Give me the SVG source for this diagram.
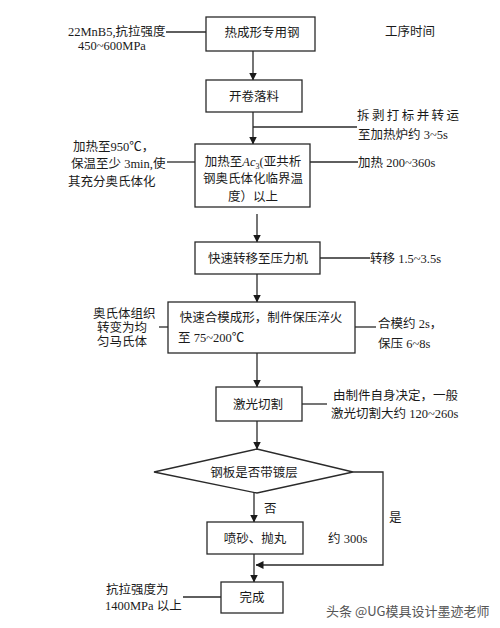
<svg xmlns="http://www.w3.org/2000/svg" width="500" height="628" viewBox="0 0 500 628">
<defs>
<marker id="ah" markerWidth="8" markerHeight="9" refX="7.5" refY="4" orient="auto" markerUnits="userSpaceOnUse">
<path d="M0,0 L8,4 L0,8 Z" fill="#1a1a1a"/>
</marker>
<style>
.box{fill:#fff;stroke:#2a2a2a;stroke-width:1.3}
.ln{fill:none;stroke:#2a2a2a;stroke-width:1.3}
.ar{fill:none;stroke:#2a2a2a;stroke-width:1.3;marker-end:url(#ah)}
text{font-family:"Liberation Serif","Noto Sans CJK SC",serif;font-size:12.5px;fill:#1a1a1a}
.c{text-anchor:middle}
.wm{font-family:"Noto Sans CJK SC","Liberation Sans",sans-serif;font-size:13px;fill:#555}
</style>
</defs>
<rect width="500" height="628" fill="#fff"/>
<g id="connectors">
<line class="ln" x1="166" y1="32" x2="206" y2="32"/>
<line class="ar" x1="253" y1="51" x2="253" y2="80"/>
<line class="ar" x1="253" y1="112" x2="253" y2="144"/>
<line class="ln" x1="253" y1="127" x2="357" y2="127"/>
<line class="ln" x1="167" y1="162" x2="195" y2="162"/>
<line class="ln" x1="310" y1="162" x2="358" y2="162"/>
<line class="ar" x1="257" y1="214" x2="257" y2="242"/>
<line class="ln" x1="320" y1="258" x2="370" y2="258"/>
<line class="ar" x1="257" y1="274" x2="257" y2="302"/>
<line class="ln" x1="159" y1="327" x2="168" y2="327"/>
<line class="ln" x1="355" y1="327" x2="376" y2="327"/>
<line class="ar" x1="257" y1="353" x2="257" y2="387"/>
<line class="ln" x1="302" y1="404" x2="327" y2="404"/>
<line class="ar" x1="257" y1="421" x2="257" y2="449"/>
<line class="ar" x1="254" y1="493" x2="254" y2="522"/>
<line class="ar" x1="254" y1="554" x2="254" y2="582"/>
<polyline class="ar" points="353,472 383,472 383,565 256,565"/>
<line class="ln" x1="183" y1="597" x2="221" y2="597"/>
</g>
<g id="n1"><rect class="box" x="206" y="17" width="109" height="34"/><text class="c" x="262" y="36.5">热成形专用钢</text></g>
<g id="n1-note"><text x="68" y="36">22MnB5,抗拉强度</text><text x="78" y="50">450~600MPa</text></g>
<g id="time-title"><text x="385" y="35.5">工序时间</text></g>
<g id="n2"><rect class="box" x="206" y="80" width="96" height="32"/><text class="c" x="254" y="100.5">开卷落料</text></g>
<g id="n2-time"><text x="357" y="119.5" textLength="102">拆剥打标并转运</text><text x="358" y="138.5">至加热炉约 3~5s</text></g>
<g id="n3"><rect class="box" x="195" y="144" width="115" height="63"/>
<text class="c" x="253" y="165.5">加热至<tspan font-style="italic">Ac</tspan><tspan font-size="8" dy="3">3</tspan><tspan dy="-3">(亚共析</tspan></text>
<text class="c" x="253" y="182.5">钢奥氏体化临界温</text>
<text class="c" x="253" y="200.5">度）以上</text></g>
<g id="n3-note"><text x="73" y="150.5">加热至950℃，</text><text x="71" y="167.5">保温至少 3min,使</text><text x="68" y="185.5">其充分奥氏体化</text></g>
<g id="n3-time"><text x="358" y="166.5">加热 200~360s</text></g>
<g id="n4"><rect class="box" x="195" y="242" width="125" height="32"/><text class="c" x="258" y="262.5">快速转移至压力机</text></g>
<g id="n4-time"><text x="370" y="262.5">转移 1.5~3.5s</text></g>
<g id="n5"><rect class="box" x="168" y="302" width="187" height="51"/><text class="c" x="261" y="321.5">快速合模成形，制件保压淬火</text><text x="178" y="341.5">至 75~200℃</text></g>
<g id="n5-note"><text x="93" y="317.5">奥氏体组织</text><text x="97" y="331.5">转变为均</text><text x="97" y="345.5">匀马氏体</text></g>
<g id="n5-time"><text x="378" y="327.5">合模约 2s，</text><text x="378" y="347.5">保压 6~8s</text></g>
<g id="n6"><rect class="box" x="216" y="387" width="86" height="34"/><text class="c" x="258" y="408.5">激光切割</text></g>
<g id="n6-time"><text x="333" y="399.5">由制件自身决定，一般</text><text x="331" y="417.5">激光切割大约 120~260s</text></g>
<g id="d1"><polygon class="box" points="154,472 257,449 353,472 257,493"/><text class="c" x="254" y="476.5">钢板是否带镀层</text></g>
<g id="lbl-no"><text x="264" y="512.5">否</text></g>
<g id="lbl-yes"><text x="389" y="521.5">是</text></g>
<g id="n7"><rect class="box" x="207" y="522" width="96" height="32"/><text class="c" x="255" y="542.5">喷砂、抛丸</text></g>
<g id="n7-time"><text x="328" y="542.5">约 300s</text></g>
<g id="n8"><rect class="box" x="221" y="582" width="62" height="31"/><text class="c" x="252" y="601.5">完成</text></g>
<g id="n8-note"><text x="106" y="593.5">抗拉强度为</text><text x="105" y="609.5">1400MPa 以上</text></g>
<g id="watermark"><text class="wm" x="326" y="615.5">头条 @UG模具设计墨迹老师</text></g>
</svg>
